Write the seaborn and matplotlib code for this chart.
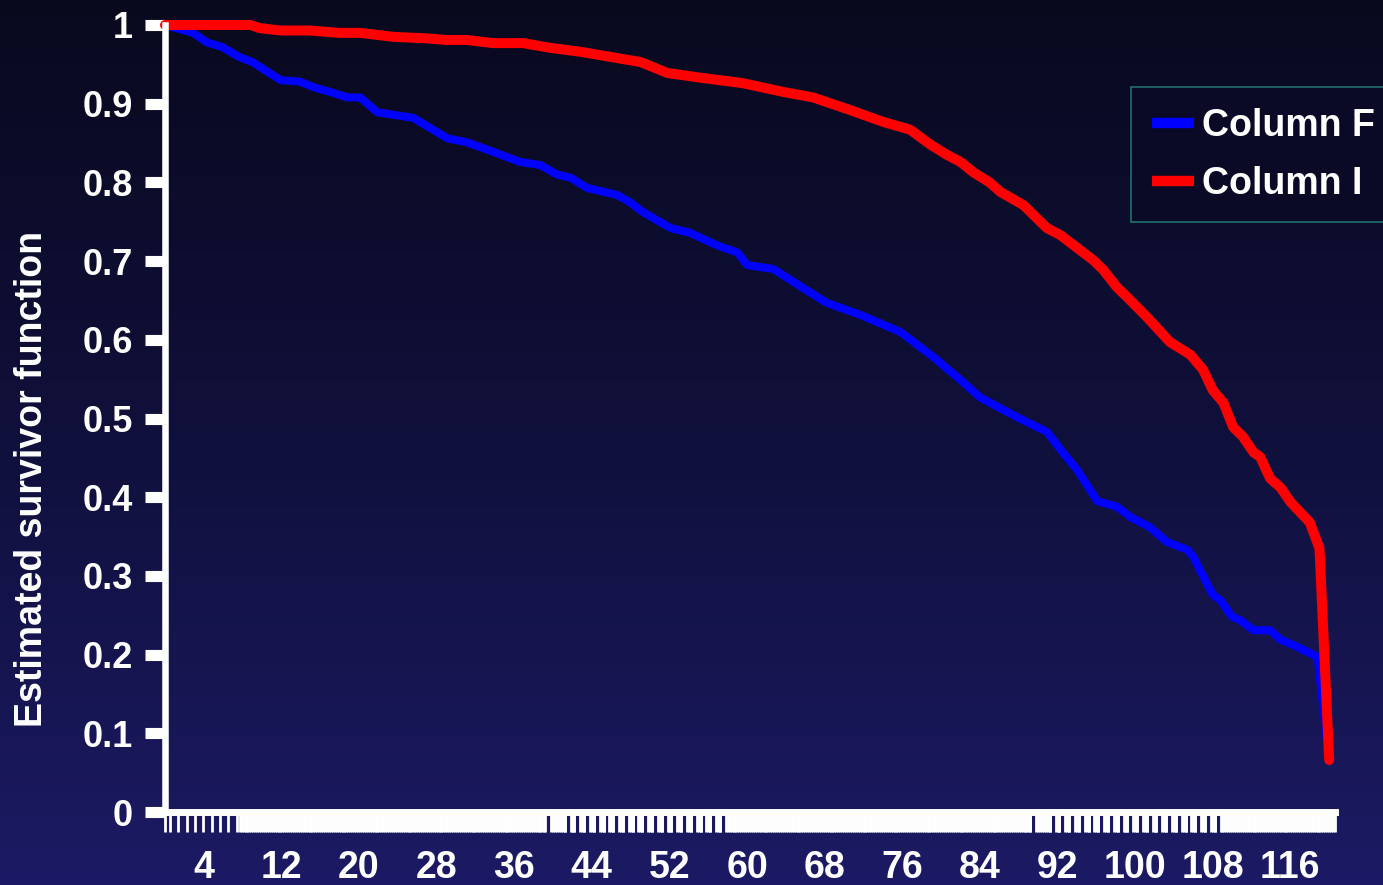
import numpy as np
import pandas as pd
import matplotlib
matplotlib.use("Agg")
import matplotlib.pyplot as plt
import seaborn as sns

# data
f_time = [0, 2.9, 4.3, 5.9, 7.7, 9.0, 11.9, 13.9, 15.3, 17.0, 18.8, 20.1, 21.9, 23.5, 25.6,
          29.1, 31.1, 33.8, 36.6, 38.7, 40.4, 41.8, 43.5, 46.6, 47.9, 49.3, 52.1, 54.1, 56.9,
          59.0, 60.0, 62.7, 65.5, 68.2, 71.6, 73.7, 75.8, 79.2, 82.0, 84.0, 85.8, 88.1, 90.9,
          92.6, 94.0, 96.1, 98.1, 99.5, 101.5, 103.3, 105.4, 106.0, 108.0, 108.8, 110.0,
          110.8, 112.2, 113.9, 115.0, 116.7, 118.8, 120.0]
f_surv = [1.0, 0.99, 0.978, 0.972, 0.959, 0.953, 0.93, 0.928, 0.921, 0.915, 0.908, 0.908,
          0.889, 0.886, 0.882, 0.856, 0.851, 0.839, 0.826, 0.822, 0.81, 0.806, 0.793, 0.784,
          0.775, 0.762, 0.742, 0.736, 0.72, 0.711, 0.695, 0.69, 0.668, 0.647, 0.632, 0.621,
          0.61, 0.578, 0.549, 0.527, 0.515, 0.5, 0.483, 0.456, 0.435, 0.395, 0.388, 0.375,
          0.362, 0.343, 0.333, 0.324, 0.276, 0.269, 0.248, 0.244, 0.231, 0.231, 0.219, 0.21,
          0.197, 0.066]

i_time = [0, 8.8, 9.8, 11.9, 14.9, 18.0, 20.1, 23.5, 27.0, 29.0, 31.1, 33.8, 36.9, 39.7,
          42.8, 46.6, 49.0, 51.8, 55.2, 59.6, 63.7, 66.8, 70.6, 74.0, 76.8, 78.9, 80.6, 82.0,
          83.3, 85.0, 86.1, 88.5, 90.9, 92.3, 94.0, 95.7, 96.7, 98.1, 99.2, 101.2, 103.6,
          105.7, 107.0, 108.0, 109.1, 110.1, 111.1, 112.2, 112.9, 113.9, 115.0, 116.0, 118.0,
          119.0, 120.0]
i_surv = [1.0, 1.0, 0.996, 0.993, 0.993, 0.99, 0.99, 0.985, 0.983, 0.981, 0.981, 0.977,
          0.977, 0.971, 0.966, 0.958, 0.953, 0.939, 0.933, 0.926, 0.915, 0.908, 0.892, 0.877,
          0.867, 0.848, 0.835, 0.826, 0.813, 0.8, 0.788, 0.771, 0.742, 0.733, 0.717, 0.701,
          0.689, 0.667, 0.654, 0.629, 0.597, 0.581, 0.562, 0.536, 0.52, 0.489, 0.477, 0.457,
          0.451, 0.424, 0.412, 0.394, 0.368, 0.335, 0.066]

x_ticks = list(range(4, 117, 8))
y_ticks = [0, 0.1, 0.2, 0.3, 0.4, 0.5, 0.6, 0.7, 0.8, 0.9, 1.0]
y_labels = ["0", "0.1", "0.2", "0.3", "0.4", "0.5", "0.6", "0.7", "0.8", "0.9", "1"]

df_f = pd.DataFrame({"time": f_time, "surv": f_surv})
df_i = pd.DataFrame({"time": i_time, "surv": i_surv})

sns.set_style("ticks")
plt.rcParams["font.family"] = ["Liberation Sans", "DejaVu Sans"]
plt.rcParams["font.weight"] = "bold"

fig = plt.figure(figsize=(13.83, 8.85), dpi=100)

# background gradient, dark navy at the top to lighter navy at the bottom
bg = fig.add_axes([0, 0, 1, 1], zorder=-10)
top = np.array([9, 9, 30]) / 255
mid = np.array([16, 16, 60]) / 255
bot = np.array([28, 26, 100]) / 255
cols = np.empty((256, 1, 3))
for k, v in enumerate(np.linspace(0, 1, 256)):
    if v < 0.5:
        cols[k, 0] = top + (mid - top) * v / 0.5
    else:
        cols[k, 0] = mid + (bot - mid) * (v - 0.5) / 0.5
bg.imshow(cols, aspect="auto", extent=[0, 1, 0, 1], origin="upper")
bg.axis("off")

ax = fig.add_axes([165 / 1383, 1 - 812 / 885, 1170 / 1383, 787 / 885])
ax.set_facecolor("none")

sns.lineplot(data=df_f, x="time", y="surv", color="#0000ff", lw=5.8, label="Column F",
             ax=ax, clip_on=False, estimator=None)
sns.lineplot(data=df_i, x="time", y="surv", color="#ff0000", lw=7.2, label="Column I",
             ax=ax, clip_on=False, estimator=None)

ax.set_xlim(0, 120.6)
ax.set_ylim(0, 1)

for s in ["top", "right"]:
    ax.spines[s].set_visible(False)
ax.spines["left"].set_color("white")
ax.spines["left"].set_linewidth(4.7)
ax.spines["bottom"].set_color("white")
ax.spines["bottom"].set_linewidth(5.0)

ax.set_yticks(y_ticks)
ax.set_yticklabels(y_labels)
ax.tick_params(axis="y", length=14.4, width=8, color="white", labelcolor="white",
               labelsize=26, pad=8.5)

ax.set_xticks(x_ticks)
ax.tick_params(axis="x", which="major", length=0, labelcolor="white", labelsize=27, pad=27)

# dense white tick band under the x axis, with thin dark gaps
ax.xaxis.remove_overlapping_locs = False
minor = [0.0] + [0.5 + 0.86 * k for k in range(9)]
gaps = [39.5] + [41.5 + k for k in range(17)] + [89.5] + [91.5 + k for k in range(18)]
edges = [7.7] + gaps + [120.6]
for a, b in zip(edges[:-1], edges[1:]):
    lo = a + 0.3 if a != 7.7 else a
    hi = b - 0.3 if b != 120.6 else b
    minor += list(np.arange(lo, hi, 0.2)) + [hi]
ax.set_xticks(minor, minor=True)
ax.tick_params(axis="x", which="minor", length=14.4, width=2, color="white", direction="out")

ax.set_xlabel("")
ax.set_ylabel("Estimated survivor function", color="white", fontsize=27, fontweight="bold")
ax.yaxis.set_label_coords((50 - 165) / 1170, (812 - 479) / 787)

for lab in ax.get_xticklabels() + ax.get_yticklabels():
    lab.set_fontweight("bold")

leg = ax.legend(loc="upper left", bbox_to_anchor=(1131 / 1383, 1 - 87 / 885),
                bbox_transform=fig.transFigure, fontsize=27, frameon=True,
                handlelength=1.12, handletextpad=0.22, borderpad=0.55, labelspacing=0.59,
                fancybox=False, borderaxespad=0)
leg.get_frame().set_facecolor("#0a0a26")
leg.get_frame().set_edgecolor("#1f6f6f")
leg.get_frame().set_linewidth(1.2)
leg.get_frame().set_alpha(1)
for txt in leg.get_texts():
    txt.set_color("white")
    txt.set_fontweight("bold")
for ln in leg.get_lines():
    ln.set_linewidth(7.5)
    ln.set_solid_capstyle("butt")

fig.savefig("out.png", dpi=100)
